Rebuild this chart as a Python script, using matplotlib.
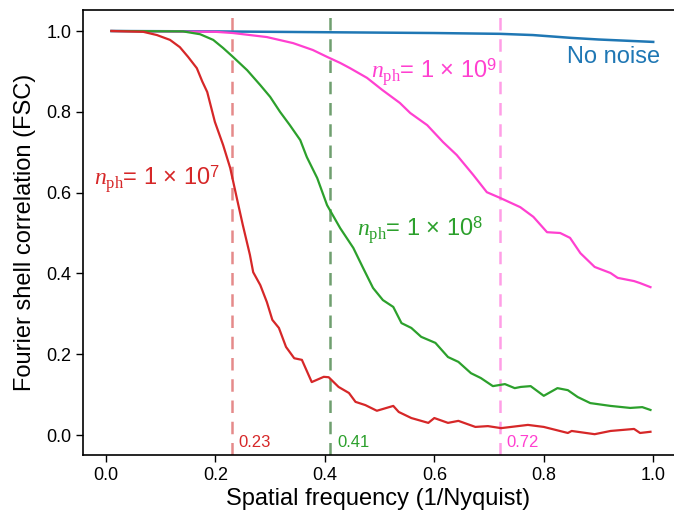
import matplotlib
matplotlib.use('Agg')
import matplotlib.pyplot as plt

plt.rcParams['font.family'] = ['Liberation Sans', 'DejaVu Sans']
plt.rcParams['mathtext.fontset'] = 'custom'
plt.rcParams['mathtext.rm'] = 'Liberation Serif'
plt.rcParams['mathtext.it'] = 'Liberation Serif:italic'
plt.rcParams['mathtext.sf'] = 'Liberation Sans'

# ---- data ----
noise_x = [0.01, 0.2, 0.4, 0.6, 0.72, 0.78, 0.85, 0.9, 0.95, 1.0]
noise_y = [1.0, 0.999, 0.997, 0.995, 0.993, 0.99, 0.983, 0.979, 0.976, 0.973]

ph9_x = [0.01, 0.2, 0.232, 0.294, 0.342, 0.378, 0.404, 0.428, 0.446, 0.477, 0.505, 0.537,
         0.556, 0.587, 0.616, 0.641, 0.671, 0.696, 0.72, 0.757, 0.781, 0.806, 0.83, 0.848,
         0.867, 0.893, 0.922, 0.935, 0.965, 0.976, 0.995]
ph9_y = [1.0, 0.998, 0.995, 0.985, 0.97, 0.953, 0.936, 0.921, 0.908, 0.884, 0.854, 0.822,
         0.797, 0.767, 0.725, 0.693, 0.644, 0.601, 0.587, 0.564, 0.54, 0.502, 0.50, 0.488,
         0.45, 0.416, 0.401, 0.389, 0.381, 0.376, 0.366]

ph8_x = [0.01, 0.141, 0.172, 0.196, 0.214, 0.232, 0.258, 0.282, 0.30, 0.318, 0.336, 0.355,
         0.367, 0.386, 0.404, 0.428, 0.452, 0.47, 0.488, 0.506, 0.525, 0.54, 0.558, 0.576,
         0.602, 0.625, 0.644, 0.667, 0.685, 0.707, 0.729, 0.747, 0.758, 0.776, 0.80, 0.825,
         0.844, 0.862, 0.885, 0.922, 0.958, 0.98, 0.995]
ph8_y = [1.0, 0.999, 0.992, 0.978, 0.958, 0.936, 0.903, 0.866, 0.837, 0.80, 0.767, 0.73,
         0.688, 0.636, 0.569, 0.512, 0.463, 0.413, 0.364, 0.334, 0.317, 0.277, 0.265, 0.243,
         0.228, 0.193, 0.181, 0.153, 0.141, 0.121, 0.126, 0.116, 0.119, 0.121, 0.097, 0.116,
         0.111, 0.094, 0.079, 0.072, 0.067, 0.069, 0.062]

ph7_x = [0.01, 0.068, 0.093, 0.117, 0.135, 0.15, 0.166, 0.176, 0.185, 0.199, 0.214, 0.227,
         0.239, 0.25, 0.263, 0.269, 0.282, 0.294, 0.304, 0.316, 0.329, 0.344, 0.358, 0.376,
         0.398, 0.407, 0.425, 0.444, 0.456, 0.474, 0.495, 0.525, 0.535, 0.558, 0.589, 0.60,
         0.625, 0.644, 0.675, 0.698, 0.722, 0.771, 0.80, 0.844, 0.851, 0.893, 0.922, 0.965,
         0.976, 0.995]
ph7_y = [1.0, 0.998, 0.99, 0.978, 0.96, 0.936, 0.908, 0.875, 0.849, 0.775, 0.718, 0.661,
         0.587, 0.52, 0.446, 0.403, 0.371, 0.329, 0.285, 0.265, 0.218, 0.19, 0.186, 0.131,
         0.144, 0.143, 0.119, 0.104, 0.082, 0.074, 0.06, 0.072, 0.057, 0.042, 0.03, 0.042,
         0.03, 0.035, 0.02, 0.022, 0.017, 0.025, 0.02, 0.005, 0.01, 0.002, 0.01, 0.015,
         0.005, 0.008]

cutoffs = [0.23, 0.41, 0.72]
cutoff_labels = ['0.23', '0.41', '0.72']

c_blue = '#1f77b4'
c_pink = '#ff40d0'
c_green = '#2ca02c'
c_red = '#d62728'
dash_colors = ['#e58a8a', '#6f9f6f', '#ff9ee6']
text_colors = [c_red, c_green, c_pink]

fig = plt.figure(figsize=(6.74, 5.12), dpi=100)
ax = fig.add_axes([83/674, 57/512, 591/674, 445/512])

for xc, dc in zip(cutoffs, dash_colors):
    ax.axvline(xc, color=dc, lw=1.8, ls=(0, (5, 3.5)), zorder=1)

ax.plot(noise_x, noise_y, color=c_blue, lw=1.8, zorder=3)
ax.plot(ph9_x, ph9_y, color=c_pink, lw=1.6, zorder=3)
ax.plot(ph8_x, ph8_y, color=c_green, lw=1.6, zorder=3)
ax.plot(ph7_x, ph7_y, color=c_red, lw=1.6, zorder=3)

for xc, lab, tc in zip(cutoffs, cutoff_labels, text_colors):
    ax.text(xc + 0.012, -0.03, lab, color=tc, fontsize=12, ha='left', va='baseline')

ax.text(0.843, 0.922, 'No noise', color=c_blue, fontsize=17, ha='left', va='baseline')
ax.text(0.485, 0.882, r'$n_{\mathrm{ph}}$= 1 × 10$^{\mathsf{9}}$', color=c_pink, fontsize=17,
        ha='left', va='baseline')
ax.text(0.458, 0.49, r'$n_{\mathrm{ph}}$= 1 × 10$^{\mathsf{8}}$', color=c_green, fontsize=17,
        ha='left', va='baseline')
ax.text(-0.022, 0.618, r'$n_{\mathrm{ph}}$= 1 × 10$^{\mathsf{7}}$', color=c_red, fontsize=17,
        ha='left', va='baseline')

ax.set_xlim(-0.042, 1.038)
ax.set_ylim(-0.0495, 1.052)
ax.set_xticks([0.0, 0.2, 0.4, 0.6, 0.8, 1.0])
ax.set_yticks([0.0, 0.2, 0.4, 0.6, 0.8, 1.0])
ax.tick_params(labelsize=13, length=5, width=1, direction='out')
ax.spines['right'].set_visible(False)
for s in ['left', 'top', 'bottom']:
    ax.spines[s].set_linewidth(1.2)

ax.set_xlabel('Spatial frequency (1/Nyquist)', fontsize=17, labelpad=3)
ax.set_ylabel('Fourier shell correlation (FSC)', fontsize=17, labelpad=7)

fig.savefig('out.png', dpi=100)
